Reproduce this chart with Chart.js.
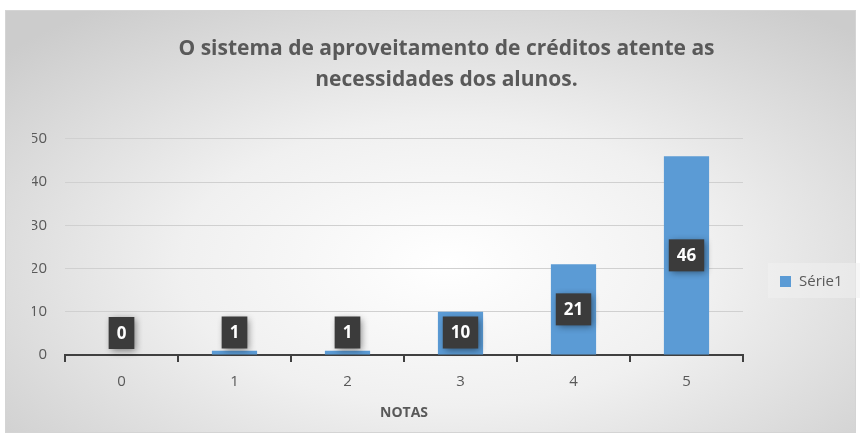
<!DOCTYPE html>
<html>
<head>
<meta charset="utf-8">
<script src="https://cdn.jsdelivr.net/npm/chart.js@4.4.1/dist/chart.umd.min.js"></script>
<style>
  html, body { margin: 0; padding: 0; background: #fff; }
  #wrap { position: relative; width: 861px; height: 439px; }
  #bg {
    position: absolute; left: 5px; top: 10px; width: 849px; height: 421px;
    border: 1px solid #d4d4d4;
    background: radial-gradient(ellipse 70% 75% at 52% 60%, #ffffff 0%, #f0f0f0 45%, #cccccc 100%);
  }
  canvas { position: absolute; left: 0; top: 0; }
</style>
</head>
<body>
<div id="wrap">
  <div id="bg"></div>
  <canvas id="chart" width="861" height="439"></canvas>
</div>
<script>
// --- data ---
const titleLines = ['O sistema de aproveitamento de créditos atente as', 'necessidades dos alunos.'];
const categories = ['0', '1', '2', '3', '4', '5'];
const seriesName = 'Série1';
const seriesValues = [0, 1, 1, 10, 21, 46];
const yTicks = [0, 10, 20, 30, 40, 50];

const barColor = '#5B9BD5';
const textColor = '#595959';

// dark value boxes, clamped so small bars still show the label above the axis
const valueBoxes = {
  id: 'valueBoxes',
  afterDatasetsDraw(chart) {
    const ctx = chart.ctx;
    const meta = chart.getDatasetMeta(0);
    ctx.save();
    ctx.font = 'bold 17px "Open Sans", sans-serif';
    meta.data.forEach((bar, i) => {
      const txt = String(seriesValues[i]);
      const w = ctx.measureText(txt).width + 16;
      const h = 32;
      let cy = (bar.y + bar.base) / 2;
      if (cy > bar.base - 22) cy = bar.base - 22;
      ctx.shadowColor = 'rgba(0,0,0,0.45)';
      ctx.shadowBlur = 7;
      ctx.shadowOffsetX = 2;
      ctx.shadowOffsetY = 2;
      ctx.fillStyle = '#3b3b3b';
      ctx.fillRect(bar.x - w / 2, cy - h / 2, w, h);
      ctx.shadowColor = 'transparent';
      ctx.fillStyle = '#ffffff';
      ctx.textAlign = 'center';
      ctx.textBaseline = 'middle';
      ctx.fillText(txt, bar.x, cy + 1);
    });
    ctx.restore();
  }
};

// legend on the right, like the spreadsheet one
const sideLegend = {
  id: 'sideLegend',
  afterDraw(chart) {
    const ctx = chart.ctx;
    ctx.save();
    ctx.fillStyle = 'rgba(240,240,240,0.55)';
    ctx.fillRect(768, 263, 92, 35);
    ctx.fillStyle = barColor;
    ctx.fillRect(780, 276, 11, 11);
    ctx.fillStyle = textColor;
    ctx.font = '15px "Open Sans", sans-serif';
    ctx.textBaseline = 'middle';
    ctx.textAlign = 'left';
    ctx.fillText(seriesName, 799, 282);
    ctx.restore();
  }
};

new Chart(document.getElementById('chart'), {
  type: 'bar',
  data: {
    labels: categories,
    datasets: [{
      label: seriesName,
      data: seriesValues,
      backgroundColor: barColor,
      borderWidth: 0,
      categoryPercentage: 1,
      barPercentage: 0.4
    }]
  },
  options: {
    responsive: false,
    animation: false,
    layout: { padding: { left: 32, right: 0, top: 0, bottom: 0 } },
    plugins: {
      legend: { display: false },
      tooltip: { enabled: false },
      title: {
        display: true,
        text: titleLines,
        color: textColor,
        font: { family: '"Open Sans", sans-serif', size: 21, weight: 'bold', lineHeight: 1.45 },
        padding: { top: 34, bottom: 44 }
      }
    },
    scales: {
      x: {
        offset: true,
        grid: { offset: true, drawOnChartArea: false, color: '#404040', lineWidth: 2, tickLength: 7 },
        border: { display: true, color: '#404040', width: 2 },
        ticks: { color: textColor, font: { family: '"Open Sans", sans-serif', size: 15 }, padding: 11 },
        title: {
          display: true, text: 'NOTAS', color: textColor,
          font: { family: '"Open Sans", sans-serif', size: 14, weight: 'bold' },
          padding: { top: 4, bottom: 18 }
        },
        afterFit(scale) { scale.height = 84; }
      },
      y: {
        min: 0, max: 50,
        afterBuildTicks(scale) { scale.ticks = yTicks.map(v => ({ value: v })); },
        grid: { color: '#d0d0d0', lineWidth: 1, drawTicks: false },
        border: { display: false },
        ticks: { color: textColor, font: { family: '"Open Sans", sans-serif', size: 15 }, padding: 18 },
        afterFit(scale) { scale.width = 33; }
      },
      // empty right-hand axis that keeps room for the legend
      side: {
        position: 'right',
        min: 0, max: 50,
        grid: { display: false },
        border: { display: false },
        ticks: { display: false },
        afterFit(scale) { scale.width = 118; }
      }
    }
  },
  plugins: [valueBoxes, sideLegend]
});
</script>
</body>
</html>
